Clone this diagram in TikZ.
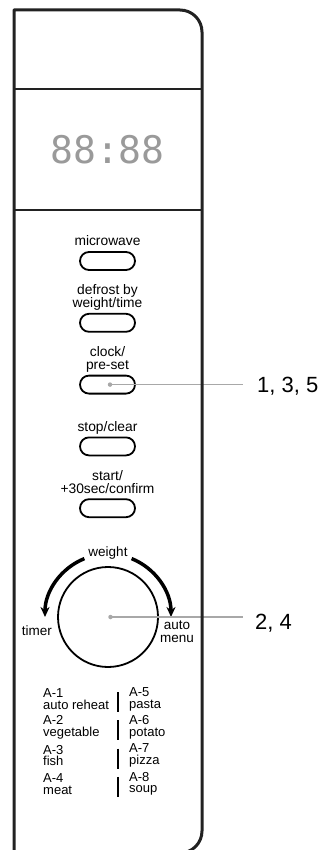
\documentclass[tikz,border=0pt]{standalone}
\usepackage{fontspec}
\setmainfont{Liberation Sans}
\newfontfamily\segfont{DejaVu Sans Mono}
\usetikzlibrary{positioning, arrows.meta}
\definecolor{panelgray}{HTML}{222222}
\definecolor{leadgray}{HTML}{A8A8A8}
\definecolor{seggray}{HTML}{9A9A9A}
\tikzset{%
  panel/.style={draw=panelgray, line width=3pt, line join=round},
  divider/.style={draw=panelgray, line width=2pt},
  button/.style={draw, line width=1.8pt, rounded corners=9pt,
    minimum width=55pt, minimum height=18pt, inner sep=0pt},
  btnlabel/.style={font=\fontsize{13.8}{13}\selectfont, align=center,
    inner sep=0pt, text depth=0pt},
  dial/.style={circle, draw, line width=1.8pt, minimum size=100pt, inner sep=0pt},
  turn/.style={line width=3.5pt, -{Stealth[length=10pt, width=9pt]}},
  dialtext/.style={font=\fontsize{13.5}{12.5}\selectfont, inner sep=0pt, align=center},
  menuitem/.style={font=\fontsize{13}{11.8}\selectfont, align=left, anchor=west, inner sep=0pt},
  menubar/.style={line width=2.6pt},
  leader/.style={draw=leadgray, line width=1.2pt},
  leaddot/.style={circle, fill=leadgray, minimum size=4.5pt, inner sep=0pt},
  callnum/.style={font=\fontsize{22}{22}\selectfont, anchor=base west, inner sep=0pt}
}

\begin{document}
\begin{tikzpicture}[x=1pt, y=1pt]
  \useasboundingbox (0,0) rectangle (320,-850);

  % display
  \node[text=seggray, font=\segfont\fontsize{38}{38}\selectfont] (display) at (107.5,-150) {88:88};

  % buttons, 60pt apart
  \node[button] (micro) at (107.5,-261) {};
  \node[button, below=42pt of micro] (defrost) {};
  \node[button, below=42pt of defrost] (clock) {};
  \node[button, below=42pt of clock] (stop) {};
  \node[button, below=42pt of stop] (start) {};

  \node[btnlabel, above=5pt of micro] (microtext) {microwave};
  \node[btnlabel, above=5pt of defrost] (defrosttext) {defrost by\\weight/time};
  \node[btnlabel, above=5pt of clock] (clocktext) {clock/\\pre-set};
  \node[btnlabel, above=5pt of stop] (stoptext) {stop/clear};
  \node[btnlabel, above=5pt of start] (starttext) {start/\\+30sec/confirm};

  % dial
  \node[dial] (dial) at (108,-617) {};
  \draw[turn] ([shift={(112:63)}]dial.center) arc[start angle=112, end angle=180, radius=63];
  \draw[turn] ([shift={(68:63)}]dial.center) arc[start angle=68, end angle=0, radius=63];
  \node[dialtext, above=7pt of dial] (weight) {weight};
  \node[dialtext, left=5pt of dial, yshift=-14pt] (timer) {timer};
  \node[dialtext, right=1pt of dial, yshift=-14.5pt] (automenu) {auto\\menu};

  % auto menu list
  \foreach \codel/\foodl/\coder/\foodr [count=\i from 0] in
      {A-1/auto reheat/A-5/pasta, A-2/vegetable/A-6/potato,
       A-3/fish/A-7/pizza, A-4/meat/A-8/soup} {
    \node[menuitem] (left\i) at (43,-699-28.3*\i) {\codel\\\foodl};
    \node[menuitem] (right\i) at (129,-699-28.3*\i) {\coder\\\foodr};
    \draw[menubar] (118,-692-28.3*\i) -- ++(0,-20);
  }

  % callouts
  \node[leaddot] (clockdot) at ([xshift=2.5pt]clock.center) {};
  \node[callnum] (calla) at (257,-392) {1, 3, 5};
  \draw[leader, shorten >=14pt] (clockdot.center) -- (clockdot.center -| calla.west);
  \node[leaddot] (dialdot) at ([xshift=2.5pt]dial.center) {};
  \node[callnum] (callb) at (255,-629) {2, 4};
  \draw[leader, shorten >=12pt] (dialdot.center) -- (dialdot.center -| callb.west);

  % housing
  \draw[panel] (14,-870) -- (14,-10) -- (180,-10)
    arc[start angle=90, end angle=0, radius=22] -- (202,-831)
    arc[start angle=0, end angle=-90, radius=22] -- (150,-853);
  \draw[divider] (14,-89) -- (202,-89);
  \draw[divider] (14,-210) -- (202,-210);
\end{tikzpicture}
\end{document}
